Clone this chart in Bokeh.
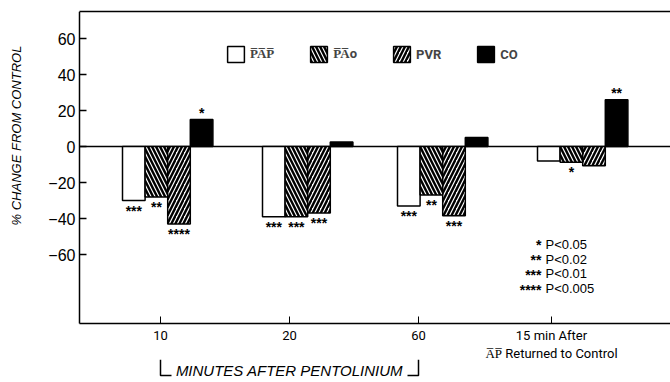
import math
from bokeh.plotting import figure
from bokeh.models import (Range1d, FixedTicker, LinearAxis, Label, Legend,
                          LegendItem, ColumnDataSource)
from bokeh.core.properties import value
from bokeh.embed import file_html
from bokeh.resources import INLINE

OL = "\u0305"


def over(s):
    return "".join(c + OL for c in s)


# ---------------- data ----------------
series_names = [over("PAP"), over("PA") + "o", "PVR", "CO"]
pap = [-30, -39, -33, -8]
pao = [-28, -39, -27, -8.7]
pvr = [-43, -37, -38.5, -10.7]
co = [15, 2.5, 5, 26]
pap_sig = ["***", "***", "***", ""]
pao_sig = ["**", "***", "**", "*"]
pvr_sig = ["****", "***", "***", ""]
co_sig = ["*", "", "", "**"]
x_labels = ["10", "20", "60", "15 min After\n" + over("AP") + " Returned to Control"]
y_ticks = [-60, -40, -20, 0, 20, 40, 60]
p_stars = ["*", "**", "***", "****"]
p_texts = ["P<0.05", "P<0.02", "P<0.01", "P<0.005"]
bracket_text = "MINUTES AFTER PENTOLINIUM"
y_title = "% CHANGE FROM CONTROL"

# ---------------- layout constants ----------------
TICK_X = [81, 210, 339, 472]
GROUP_LEFT = [43, 183, 318, 458]
BAR_W = 22.6
X_END = 591
Y_BOTTOM = -98.3
Y_TOP = 75
FONT = "Liberation Sans"
COND = "Roboto"

p = figure(width=670, height=382, x_range=Range1d(-79, X_END), y_range=Range1d(-131.1, Y_TOP),
           output_backend="svg", toolbar_location=None,
           min_border_left=0, min_border_right=0, min_border_top=11, min_border_bottom=0,
           x_axis_location=None, y_axis_location=None)
p.outline_line_color = None
p.grid.visible = False

# left axis: line, ticks, tick labels
yax = LinearAxis(ticker=FixedTicker(ticks=y_ticks), bounds=(Y_BOTTOM, Y_TOP), fixed_location=0,
                 major_label_overrides={t: (("−" + str(-t)) if t < 0 else str(t)) for t in y_ticks})
yax.axis_line_width = 1.5
yax.major_tick_in = 7
yax.major_tick_out = 0
yax.minor_tick_line_color = None
yax.major_tick_line_width = 1.5
yax.major_label_standoff = 4
yax.major_label_text_font = FONT
yax.major_label_text_font_size = "16px"
yax.major_label_text_color = "black"
p.add_layout(yax, "left")

# bottom axis
xax = LinearAxis(ticker=FixedTicker(ticks=TICK_X), fixed_location=Y_BOTTOM, bounds=(0, X_END),
                 major_label_overrides={t: lab for t, lab in zip(TICK_X, x_labels)})
xax.axis_line_width = 1.5
xax.major_tick_in = 7
xax.major_tick_out = 0
xax.minor_tick_line_color = None
xax.major_label_standoff = 5
xax.major_label_text_font = COND
xax.major_label_text_font_size = "13px"
xax.major_label_text_color = "black"
p.add_layout(xax, "below")

# top line
tax = LinearAxis(ticker=FixedTicker(ticks=[]), bounds=(0, X_END), major_label_text_font_size="0px")
tax.axis_line_width = 1.5
tax.major_tick_line_color = None
tax.minor_tick_line_color = None
p.add_layout(tax, "above")

# zero line starting at the value axis
p.ray(x=[0], y=[0], length=0, angle=0, line_color="black", line_width=1.5)

# y title
p.add_layout(Label(x=-63, y=6.1, angle=math.pi / 2, text=y_title, text_align="center",
                   text_baseline="middle", text_font=FONT, text_font_style="italic",
                   text_font_size="13px", text_color="black"))

styles = [
    dict(fill_color="white"),
    dict(fill_color="white", hatch_pattern="\\", hatch_color="black", hatch_weight=2.4, hatch_scale=8),
    dict(fill_color="white", hatch_pattern="/", hatch_color="black", hatch_weight=2.4, hatch_scale=8),
    dict(fill_color="black"),
]
all_vals = [pap, pao, pvr, co]
all_sig = [pap_sig, pao_sig, pvr_sig, co_sig]
items = []
for k, (vals, sig, st) in enumerate(zip(all_vals, all_sig, styles)):
    xs = [GROUP_LEFT[i] + (k + 0.5) * BAR_W for i in range(len(vals))]
    src = ColumnDataSource(dict(x=xs, top=vals, sig=sig,
                                off=[10 if v < 0 else -7 for v in vals]))
    r = p.vbar(x="x", top="top", bottom=0, width=BAR_W, source=src,
               line_color="black", line_width=1.5, **st)
    items.append(LegendItem(label=series_names[k], renderers=[r]))
    p.text(x="x", y="top", text="sig", y_offset="off", source=src,
           text_align="center", text_baseline="alphabetic", text_font=value(FONT),
           text_font_size="14px", text_font_style="bold", text_color="black")

legend = Legend(items=items, orientation="horizontal", location=(225, 318),
                glyph_width=21, glyph_height=20, padding=0, margin=0, spacing=34,
                label_standoff=4, border_line_color=None, background_fill_alpha=0,
                label_text_font=COND, label_text_font_size="13px", label_text_font_style="bold",
                label_height=20)
p.add_layout(legend, "center")

# p-value key
ys = [-54.4 - 8.2 * i for i in range(len(p_texts))]
ksrc = ColumnDataSource(dict(x=[464] * len(p_texts), y=ys, s=p_stars, t=p_texts))
p.text(x="x", y="y", text="s", source=ksrc, text_align="right", text_baseline="alphabetic",
       text_font=value(FONT), text_font_size="14px", text_font_style="bold",
       text_color="black", x_offset=-2, y_offset=1)
p.text(x="x", y="y", text="t", source=ksrc, text_align="left", text_baseline="middle",
       text_font=value(FONT), text_font_size="13px", text_color="black", x_offset=2)

# bracket under the pentolinium time points
bx0, bx1 = TICK_X[0], TICK_X[2]
p.multi_line(xs=[[bx0, bx0, bx0 + 11], [bx1 - 11, bx1, bx1]],
             ys=[[-118.5, -127.2, -127.2], [-127.2, -127.2, -118.5]],
             line_color="black", line_width=1.5)
p.add_layout(Label(x=(bx0 + bx1) / 2, y=-124.2, text=bracket_text, text_align="center",
                   text_baseline="middle", text_font=FONT, text_font_style="italic",
                   text_font_size="15px", text_color="black"))

open("out.html", "w").write(file_html(p, INLINE))
